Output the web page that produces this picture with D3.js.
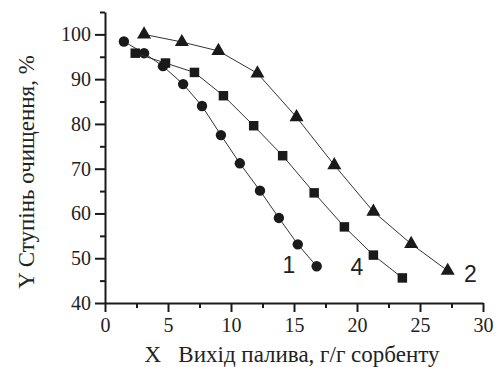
<!DOCTYPE html>
<html>
<head>
<meta charset="utf-8">
<script src="https://cdn.jsdelivr.net/npm/d3@7"></script>
</head>
<body style="margin:0">
<script>
// data
const series1X = [1.5, 3.1, 4.6, 6.2, 7.7, 9.2, 10.7, 12.3, 13.8, 15.3, 16.8];
const series1Y = [98.4, 95.8, 92.9, 88.9, 84.0, 77.5, 71.2, 65.1, 59.0, 53.1, 48.2];
const series4X = [2.4, 4.8, 7.1, 9.4, 11.8, 14.1, 16.6, 19.0, 21.3, 23.6];
const series4Y = [95.8, 93.6, 91.5, 86.3, 79.6, 72.9, 64.6, 57.0, 50.7, 45.6];
const series2X = [3.1, 6.1, 9.0, 12.1, 15.2, 18.2, 21.3, 24.3, 27.2];
const series2Y = [100.0, 98.3, 96.3, 91.3, 81.5, 70.8, 60.4, 53.2, 47.2];
const xTicks = [0, 5, 10, 15, 20, 25, 30];
const yTicks = [40, 50, 60, 70, 80, 90, 100];
const seriesNames = ["1", "4", "2"];

const width = 497, height = 367;

const svg = d3.select('body').append('svg')
  .attr('width', width)
  .attr('height', height)
  .attr('font-family', 'Liberation Serif');

const x = d3.scaleLinear().domain([0, 30]).range([105, 483]);
const y = d3.scaleLinear().domain([40, 105]).range([303, 12]);

// minor ticks
const xMinor = d3.range(2.5, 30, 5);
const yMinor = d3.range(45, 106, 5).filter(v => v % 10 !== 0);

svg.append('g')
  .attr('transform', `translate(0,${y(40)})`)
  .call(d3.axisBottom(x).tickValues(xTicks).tickSize(9).tickPadding(6).tickSizeOuter(0));
svg.append('g')
  .attr('transform', `translate(0,${y(40)})`)
  .call(d3.axisBottom(x).tickValues(xMinor).tickSize(5).tickFormat('').tickSizeOuter(0))
  .select('.domain').remove();

svg.append('g')
  .attr('transform', `translate(${x(0)},0)`)
  .call(d3.axisLeft(y).tickValues(yTicks).tickSize(10).tickPadding(4).tickSizeOuter(0));
svg.append('g')
  .attr('transform', `translate(${x(0)},0)`)
  .call(d3.axisLeft(y).tickValues(yMinor).tickSize(5).tickFormat('').tickSizeOuter(0))
  .select('.domain').remove();

// axis groups carry their own font attrs, reset them
svg.selectAll('g').attr('font-family', 'Liberation Serif').attr('font-size', 20);

svg.selectAll('.domain, .tick line')
  .attr('stroke', '#1a1a1a')
  .attr('stroke-width', 2);
svg.selectAll('.tick text')
  .attr('font-family', 'Liberation Serif')
  .attr('font-size', 20)
  .attr('fill', '#222');

// series
const series = [
  { name: seriesNames[0], xs: series1X, ys: series1Y, symbol: d3.symbolCircle, size: 85 },
  { name: seriesNames[1], xs: series4X, ys: series4Y, symbol: d3.symbolSquare, size: 90 },
  { name: seriesNames[2], xs: series2X, ys: series2Y, symbol: d3.symbolTriangle, size: 85 }
];

const line = d3.line().x(d => x(d[0])).y(d => y(d[1]));

series.forEach(s => {
  const pts = s.xs.map((v, i) => [v, s.ys[i]]);
  svg.append('path')
    .datum(pts)
    .attr('d', line)
    .attr('fill', 'none')
    .attr('stroke', '#333')
    .attr('stroke-width', 1);
  svg.append('g').selectAll('path')
    .data(pts)
    .enter().append('path')
    .attr('transform', d => `translate(${x(d[0])},${y(d[1])})`)
    .attr('d', d3.symbol().type(s.symbol).size(s.size))
    .attr('fill', '#1a1a1a');
});

// curve labels
const labelPos = [[14.6, 48.5], [20.0, 48.0], [29.0, 46.5]];
svg.append('g').selectAll('text')
  .data(seriesNames)
  .enter().append('text')
  .attr('x', (d, i) => x(labelPos[i][0]))
  .attr('y', (d, i) => y(labelPos[i][1]))
  .attr('text-anchor', 'middle')
  .attr('dy', '0.35em')
  .attr('font-family', 'Liberation Sans')
  .attr('font-size', 23)
  .attr('fill', '#222')
  .text(d => d);

// axis titles
svg.append('text')
  .attr('transform', `translate(34,172) rotate(-90)`)
  .attr('text-anchor', 'middle')
  .attr('font-family', 'Liberation Serif')
  .attr('font-size', 23)
  .attr('fill', '#222')
  .text('Y Ступінь очищення, %');

svg.append('text')
  .attr('x', 292)
  .attr('y', 362)
  .attr('text-anchor', 'middle')
  .attr('font-family', 'Liberation Serif')
  .attr('font-size', 23)
  .attr('fill', '#222')
  .text('X\u00a0\u00a0\u00a0Вихід палива, г/г сорбенту');
</script>
</body>
</html>
